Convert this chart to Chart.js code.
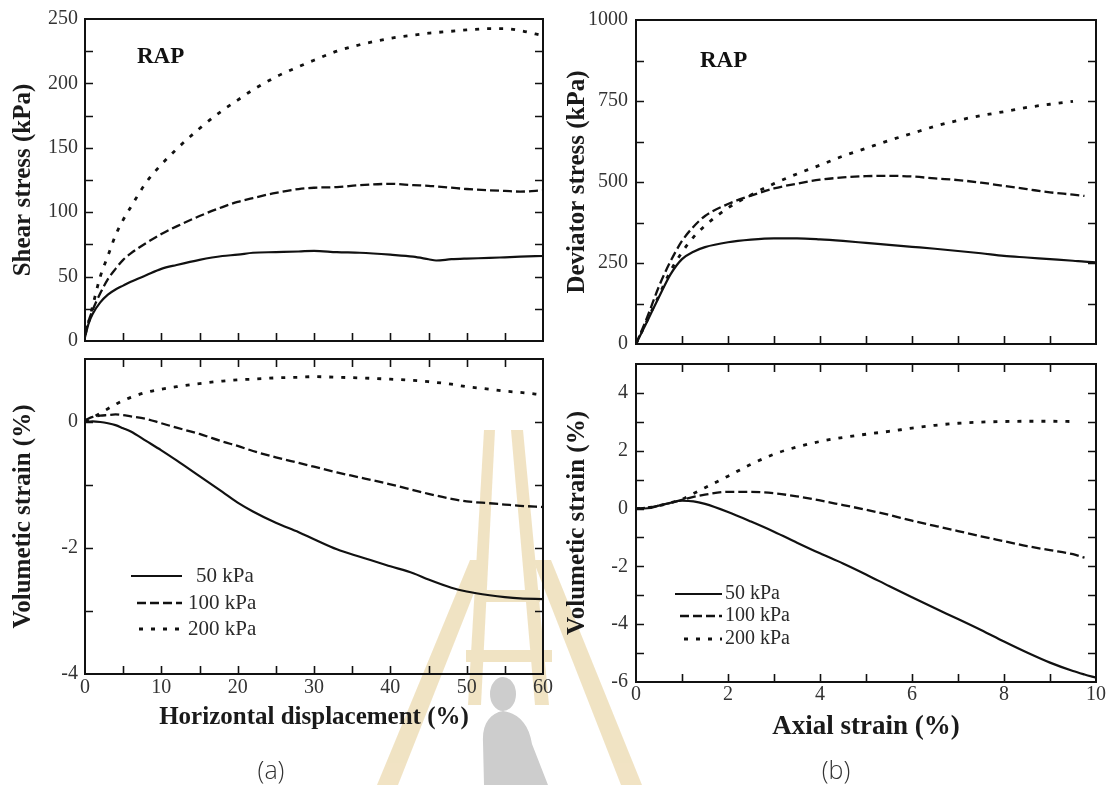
<!DOCTYPE html>
<html>
<head>
<meta charset="utf-8">
<title>RAP shear and triaxial tests</title>
<script src="https://cdn.jsdelivr.net/npm/chart.js@4.4.0/dist/chart.umd.min.js"></script>
<style>
  html, body { margin: 0; padding: 0; background: #fff; }
  #page { position: relative; width: 1114px; height: 785px; overflow: hidden; }
  .box { position: absolute; }
  canvas { display: block; }
  .mark { position: absolute; left: 0; top: 0; }
  .cap { position: absolute; width: 80px; margin-left: -40px; text-align: center;
         font: 300 25px "Open Sans", "Lato", sans-serif; line-height: 28px; color: #333; }
</style>
</head>
<body>
<div id="page">
  <!-- faint watermark behind the plots -->
  <svg class="mark" width="1114" height="785" viewBox="0 0 1114 785">
    <g fill="#ecdab0" opacity="0.75">
      <polygon points="484,430 495,430 481,705 468,705"/>
      <polygon points="511,430 523,430 549,705 535,705"/>
      <polygon points="470,560 487,560 398,785 377,785"/>
      <polygon points="533,560 551,560 642,785 621,785"/>
      <rect x="478" y="590" width="62" height="12"/>
      <rect x="466" y="650" width="86" height="12"/>
    </g>
    <ellipse cx="503" cy="694" rx="13" ry="17" fill="#cdcdcd"/>
    <path d="M484,785 L483,742 C482,724 490,713 503,711 C518,713 529,724 532,744 L548,785 Z" fill="#cdcdcd"/>
  </svg>

  <div class="box" style="left:0;top:0"><canvas id="a-top" width="560" height="360"></canvas></div>
  <div class="box" style="left:0;top:340px"><canvas id="a-bot" width="560" height="445"></canvas></div>
  <div class="box" style="left:560px;top:0"><canvas id="b-top" width="554" height="364"></canvas></div>
  <div class="box" style="left:560px;top:344px"><canvas id="b-bot" width="554" height="441"></canvas></div>

  <div class="cap" style="left:271px;top:755px">(a)</div>
  <div class="cap" style="left:836px;top:755px">(b)</div>
</div>

<script>
"use strict";

/* ==========================================================
   DATA
   ========================================================== */
const seriesLabels = ["50 kPa", "100 kPa", "200 kPa"];
const panelTag = "RAP";

// (a) direct shear: shear stress vs horizontal displacement
const shearX   = [0, 0.5, 1, 2, 3, 4, 5, 6, 8, 10, 12, 15, 18, 20, 22, 25, 28, 30, 33, 36, 40, 43, 45, 46, 48, 50, 53, 55, 57, 60];
const shear50  = [3, 14, 21, 30, 36, 40, 43, 46, 51, 56, 59, 63, 66, 67, 68.5, 69, 69.5, 70, 69, 68.5, 67, 65.5, 63.5, 62.5, 63.5, 64, 64.5, 65, 65.5, 66];
const shear100 = [5, 16, 24, 37, 48, 56, 63, 68, 76, 83, 89, 97, 104, 108, 111, 115, 118, 119, 119.5, 121, 122, 121, 120.5, 120, 119, 118, 117, 116.5, 116, 117];
const shear200 = [5, 15, 27, 50, 66, 82, 94, 104, 123, 137, 149, 165, 179, 187, 195, 205, 213, 218, 225, 230, 235, 237.5, 239, 239.5, 240.5, 241.5, 242.5, 242.5, 241, 237];

// (a) volumetric strain vs horizontal displacement
const volShearX   = [0, 1, 2, 3, 4, 5, 6, 8, 10, 12, 15, 18, 20, 22, 25, 28, 30, 33, 36, 40, 43, 45, 48, 50, 53, 55, 57, 60];
const volShear50  = [0, 0.01, 0, -0.02, -0.05, -0.1, -0.15, -0.3, -0.45, -0.61, -0.86, -1.11, -1.28, -1.42, -1.6, -1.75, -1.86, -2.02, -2.14, -2.29, -2.4, -2.5, -2.63, -2.69, -2.75, -2.78, -2.8, -2.81];
const volShear100 = [0.03, 0.08, 0.1, 0.11, 0.12, 0.11, 0.09, 0.05, -0.02, -0.09, -0.19, -0.31, -0.38, -0.46, -0.56, -0.65, -0.71, -0.8, -0.88, -0.99, -1.08, -1.14, -1.22, -1.26, -1.29, -1.31, -1.33, -1.35];
const volShear200 = [0.01, 0.07, 0.14, 0.21, 0.28, 0.34, 0.39, 0.47, 0.52, 0.56, 0.61, 0.65, 0.67, 0.68, 0.7, 0.71, 0.72, 0.71, 0.7, 0.68, 0.66, 0.64, 0.6, 0.56, 0.52, 0.49, 0.47, 0.43];

// (b) triaxial: deviator stress and volumetric strain vs axial strain
const triaxX    = [0, 0.25, 0.5, 0.75, 1, 1.25, 1.5, 2, 2.5, 3, 3.5, 4, 4.5, 5, 5.5, 6, 6.5, 7, 7.5, 8, 8.5, 9, 9.5, 9.75, 10];
const dev50     = [0, 72, 145, 215, 262, 285, 299, 314, 322, 326, 326, 323, 318, 312, 306, 300, 294, 287, 280, 272, 267, 262, 257, 254, 252];
const dev100    = [0, 85, 178, 255, 318, 362, 395, 432, 458, 480, 495, 507, 514, 518, 519, 517, 511, 506, 498, 488, 478, 468, 461, 457, null];
const dev200    = [0, 75, 150, 225, 283, 330, 365, 420, 460, 495, 525, 552, 580, 604, 628, 650, 672, 690, 705, 717, 730, 740, 749, null, null];
const volTri50  = [0, 0.01, 0.1, 0.2, 0.27, 0.25, 0.16, -0.12, -0.45, -0.8, -1.18, -1.55, -1.9, -2.28, -2.68, -3.07, -3.45, -3.82, -4.2, -4.6, -4.98, -5.33, -5.62, -5.74, -5.85];
const volTri100 = [0, 0.03, 0.1, 0.2, 0.3, 0.4, 0.48, 0.58, 0.58, 0.53, 0.42, 0.28, 0.12, -0.04, -0.22, -0.42, -0.6, -0.78, -0.96, -1.13, -1.3, -1.44, -1.58, -1.7, null];
const volTri200 = [0, 0.03, 0.1, 0.2, 0.32, 0.52, 0.72, 1.12, 1.53, 1.88, 2.13, 2.32, 2.46, 2.57, 2.67, 2.78, 2.88, 2.95, 2.99, 3.01, 3.02, 3.02, 3.01, null, null];

/* ==========================================================
   STYLE
   ========================================================== */
const INK = "#111";
const seriesStyle = [
  { dash: [],     width: 2.2 },
  { dash: [9, 4], width: 2.3 },
  { dash: [4, 8], width: 2.8 },
];

Chart.defaults.font.family = "'Liberation Serif', 'Times New Roman', serif";
Chart.defaults.color = "#333";

function lineSet(i, xs, ys) {
  return {
    label: seriesLabels[i],
    data: xs.map((x, k) => ({ x, y: ys[k] })),
    showLine: true,
    borderColor: INK,
    borderWidth: seriesStyle[i].width,
    borderDash: seriesStyle[i].dash,
    pointRadius: 0,
    fill: false,
    cubicInterpolationMode: "monotone",
  };
}

// box + inward ticks on every side
const framePlugin = {
  id: "frame",
  afterDatasetsDraw(chart, args, o) {
    const { ctx, chartArea: a, scales: { x, y } } = chart;
    const L = 8;
    ctx.save();
    ctx.strokeStyle = INK;
    ctx.lineWidth = 1.6;
    ctx.beginPath();
    for (let v = x.min + o.xMinor; v < x.max - 1e-9; v += o.xMinor) {
      const px = Math.round(x.getPixelForValue(v)) + 0.5;
      ctx.moveTo(px, a.bottom); ctx.lineTo(px, a.bottom - L);
      if (o.topTicks) { ctx.moveTo(px, a.top); ctx.lineTo(px, a.top + L); }
    }
    for (let v = y.min + o.yMinor; v < y.max - 1e-9; v += o.yMinor) {
      const py = Math.round(y.getPixelForValue(v)) + 0.5;
      ctx.moveTo(a.left, py); ctx.lineTo(a.left + L, py);
      ctx.moveTo(a.right, py); ctx.lineTo(a.right - L, py);
    }
    ctx.stroke();
    ctx.lineWidth = 2;
    ctx.strokeRect(a.left, a.top, a.right - a.left, a.bottom - a.top);
    ctx.restore();
  }
};

// "RAP" tag and the in-plot legend
const notesPlugin = {
  id: "notes",
  afterDraw(chart, args, o) {
    const { ctx, chartArea: a } = chart;
    ctx.save();
    if (o.tag) {
      ctx.font = "bold 23px 'Liberation Serif'";
      ctx.fillStyle = INK;
      ctx.textBaseline = "alphabetic";
      ctx.fillText(o.tag, a.left + o.tagAt[0], a.top + o.tagAt[1]);
    }
    if (o.legend) {
      const g = o.legend;
      ctx.font = g.font;
      ctx.textBaseline = "middle";
      chart.data.datasets.forEach((ds, i) => {
        const yy = a.top + g.rows[i];
        ctx.beginPath();
        ctx.setLineDash(ds.borderDash);
        ctx.lineWidth = ds.borderWidth;
        ctx.strokeStyle = ds.borderColor;
        ctx.moveTo(a.left + g.x0[i], yy);
        ctx.lineTo(a.left + g.x1, yy);
        ctx.stroke();
        ctx.setLineDash([]);
        ctx.fillStyle = "#2a2a2a";
        ctx.fillText(ds.label, a.left + g.tx[i], yy);
      });
    }
    ctx.restore();
  }
};

function onStep(step) {
  return (v) => (Math.abs(v / step - Math.round(v / step)) < 1e-6 ? v : null);
}

function buildPanel(id, p) {
  const el = document.getElementById(id);
  return new Chart(el, {
    type: "scatter",
    data: { datasets: p.sets },
    options: {
      responsive: false,
      animation: false,
      events: [],
      layout: { padding: p.pad },
      plugins: {
        legend: { display: false },
        tooltip: { enabled: false },
        frame: { xMinor: p.xMinor, yMinor: p.yMinor, topTicks: p.topTicks },
        notes: { tag: p.tag, tagAt: p.tagAt, legend: p.legend },
      },
      scales: {
        x: {
          type: "linear", min: p.xMin, max: p.xMax,
          display: p.showX,
          grid: { display: false, drawTicks: false },
          border: { display: false },
          ticks: { stepSize: p.xStep, padding: p.xTickPad, maxRotation: 0, color: "#333",
                   font: { size: p.tickSize }, callback: onStep(p.xStep) },
          title: { display: !!p.xTitle, text: p.xTitle, color: "#1a1a1a",
                   font: { size: p.xTitleSize, weight: "bold" }, padding: { top: 0, bottom: p.xTitlePad } },
          afterFit: (s) => { s.height = p.xHeight; },
        },
        y: {
          type: "linear", min: p.yMin, max: p.yMax,
          grid: { display: false, drawTicks: false },
          border: { display: false },
          ticks: { stepSize: p.yMinor, padding: p.yTickPad, color: "#333",
                   font: { size: p.tickSize }, callback: onStep(p.yStep) },
          title: { display: true, text: p.yTitle, color: "#1a1a1a",
                   font: { size: 25, weight: "bold" }, padding: { top: p.yTitlePad, bottom: 0 } },
          afterFit: (s) => { s.width = p.yWidth; },
        },
      },
    },
    plugins: [framePlugin, notesPlugin],
  });
}

/* ==========================================================
   PANELS
   ========================================================== */
buildPanel("a-top", {
  sets: [lineSet(0, shearX, shear50), lineSet(1, shearX, shear100), lineSet(2, shearX, shear200)],
  pad: { top: 19, right: 17, bottom: 13, left: 0 },
  xMin: 0, xMax: 60, xStep: 10, xMinor: 5, showX: false, xHeight: 0,
  yMin: 0, yMax: 250, yStep: 50, yMinor: 25,
  yTitle: "Shear stress (kPa)", yWidth: 85, yTitlePad: 9, yTickPad: 7, tickSize: 20,
  topTicks: false, tag: panelTag, tagAt: [52, 44],
});

buildPanel("a-bot", {
  sets: [lineSet(0, volShearX, volShear50), lineSet(1, volShearX, volShear100), lineSet(2, volShearX, volShear200)],
  pad: { top: 7, right: 17, bottom: 0, left: 0 },
  xMin: 0, xMax: 60, xStep: 10, xMinor: 5, showX: true, xHeight: 111, xTickPad: 2,
  xTitle: "Horizontal displacement (%)", xTitleSize: 25, xTitlePad: 52,
  yMin: -4, yMax: 1, yStep: 2, yMinor: 1,
  yTitle: "Volumetic strain (%)", yWidth: 85, yTitlePad: 9, yTickPad: 7, tickSize: 20,
  topTicks: true,
  legend: { font: "21px 'Liberation Serif'", rows: [217, 244, 270], x0: [46, 52, 54], x1: 97, tx: [111, 103, 103] },
});

buildPanel("b-top", {
  sets: [lineSet(0, triaxX, dev50), lineSet(1, triaxX, dev100), lineSet(2, triaxX, dev200)],
  pad: { top: 20, right: 18, bottom: 13, left: 0 },
  xMin: 0, xMax: 10, xStep: 2, xMinor: 1, showX: false, xHeight: 0,
  yMin: 0, yMax: 1000, yStep: 250, yMinor: 125,
  yTitle: "Deviator stress (kPa)", yWidth: 76, yTitlePad: 3, yTickPad: 8, tickSize: 20,
  topTicks: false, tag: panelTag, tagAt: [64, 47],
});

buildPanel("b-bot", {
  sets: [lineSet(0, triaxX, volTri50), lineSet(1, triaxX, volTri100), lineSet(2, triaxX, volTri200)],
  pad: { top: 7, right: 18, bottom: 0, left: 0 },
  xMin: 0, xMax: 10, xStep: 2, xMinor: 1, showX: true, xHeight: 103, xTickPad: 1,
  xTitle: "Axial strain (%)", xTitleSize: 27, xTitlePad: 42,
  yMin: -6, yMax: 5, yStep: 2, yMinor: 1,
  yTitle: "Volumetic strain (%)", yWidth: 76, yTitlePad: 3, yTickPad: 8, tickSize: 20,
  topTicks: true,
  legend: { font: "20px 'Liberation Serif'", rows: [230, 252, 275], x0: [39, 44, 48], x1: 86, tx: [89, 89, 89] },
});
</script>
</body>
</html>
